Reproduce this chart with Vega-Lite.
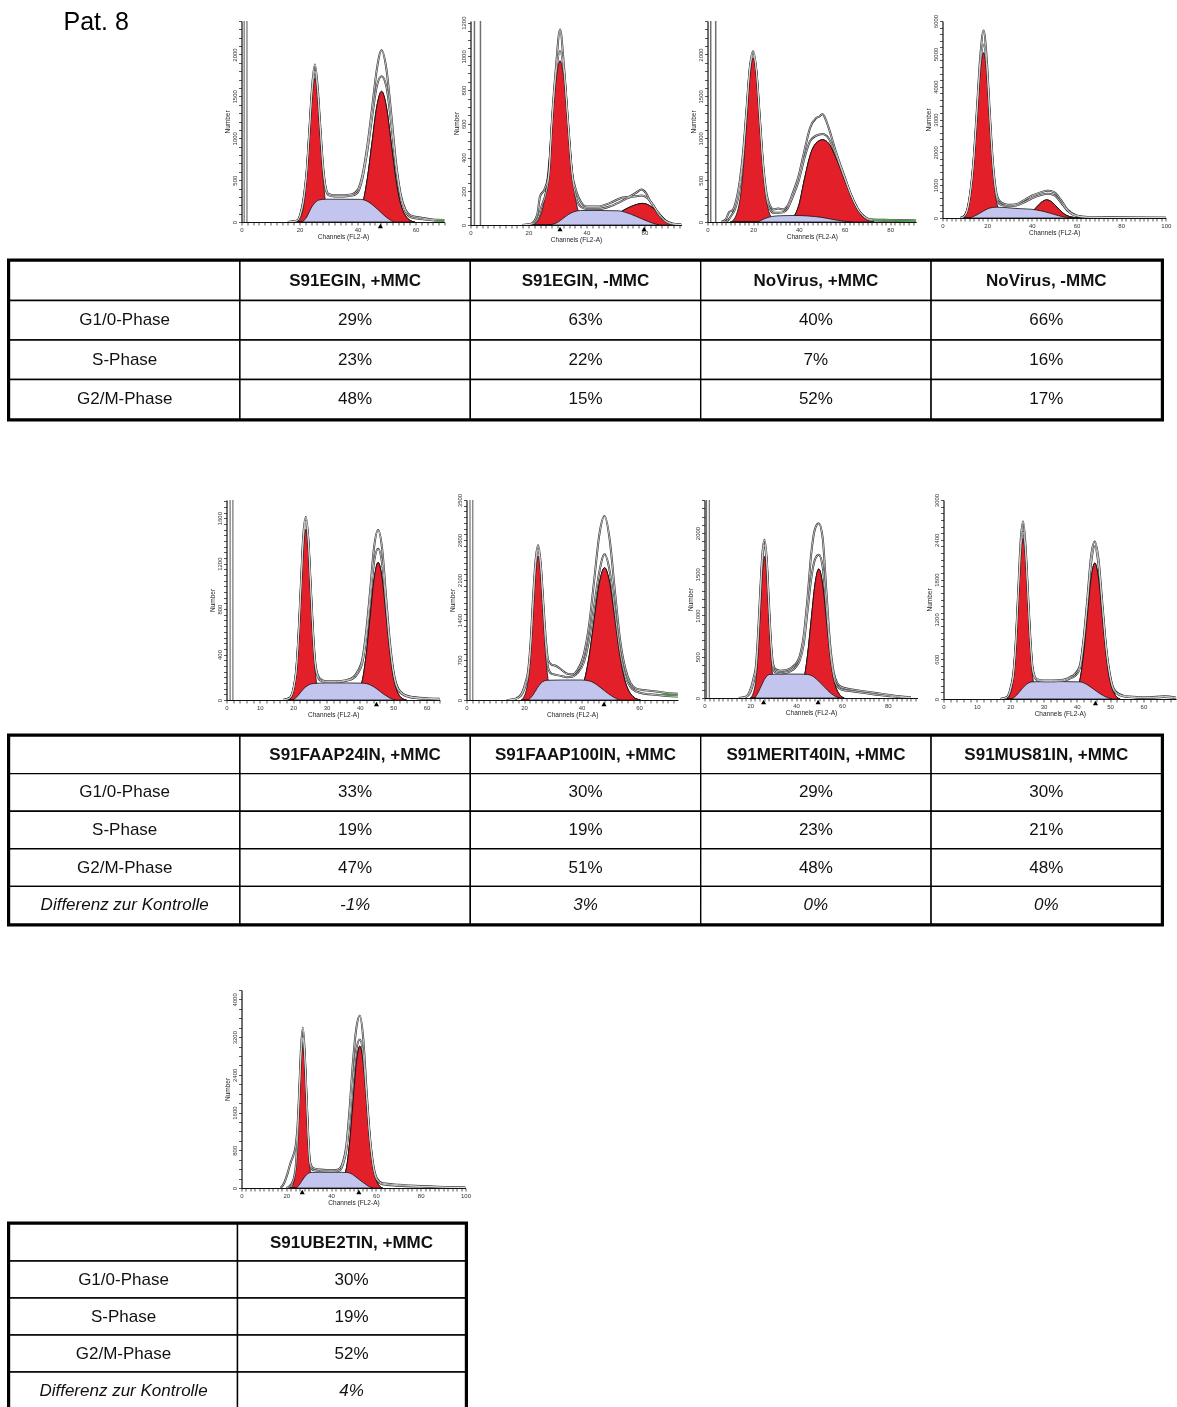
{
"$schema": "https://vega.github.io/schema/vega-lite/v6.json",
"background": "white",
"padding": {"left": 5.5, "top": 10, "right": 0, "bottom": 0},
"spacing": 14,
"config": {
 "view": {"stroke": null},
 "font": "Liberation Sans",
 "axis": {"grid": false, "domainColor": "#111111", "domainWidth": 1.2, "tickColor": "#111111", "tickWidth": 0.7, "tickSize": 3, "labelFontSize": 6, "labelColor": "#333333", "labelPadding": 1, "labelFlush": false, "labelOverlap": false, "titleFontSize": 6.5, "titleFontWeight": "normal", "titleColor": "#222222", "titlePadding": 1},
 "axisY": {"labelAngle": 270, "labelAlign": "center", "labelBaseline": "bottom", "titlePadding": 1},
 "text": {"font": "Liberation Sans"}
},
"datasets": {
 "h1": [
  {"k":"gate","x":1.4},
  {"k":"tri","x":47.9,"y":0},
  {"k":"gr","x":66.5,"y":18},{"k":"gr","x":70,"y":18},
  {"k":"g1","x":18.5,"y":0},{"k":"g1","x":19.75,"y":19},{"k":"g1","x":21.6,"y":233},{"k":"g1","x":22.5,"y":558},{"k":"g1","x":23.45,"y":1043},{"k":"g1","x":24.4,"y":1518},{"k":"g1","x":25.3,"y":1720},{"k":"g1","x":26.2,"y":1518},{"k":"g1","x":27.15,"y":1043},{"k":"g1","x":28.1,"y":558},{"k":"g1","x":29,"y":233},{"k":"g1","x":30.9,"y":19},{"k":"g1","x":32,"y":0},
  {"k":"g2","x":37,"y":0},{"k":"g2","x":38.4,"y":17},{"k":"g2","x":41.7,"y":211},{"k":"g2","x":43.35,"y":507},{"k":"g2","x":45,"y":946},{"k":"g2","x":46.65,"y":1377},{"k":"g2","x":48.3,"y":1560},{"k":"g2","x":49.95,"y":1377},{"k":"g2","x":51.6,"y":946},{"k":"g2","x":53.25,"y":507},{"k":"g2","x":54.9,"y":211},{"k":"g2","x":58.2,"y":17},{"k":"g2","x":59.8,"y":0},
  {"k":"s","x":21,"y":0},{"k":"s","x":22.5,"y":60},{"k":"s","x":24,"y":165},{"k":"s","x":25.5,"y":235},{"k":"s","x":27,"y":265},{"k":"s","x":29,"y":272},{"k":"s","x":35,"y":272},{"k":"s","x":41,"y":270},{"k":"s","x":43,"y":255},{"k":"s","x":45,"y":210},{"k":"s","x":47,"y":150},{"k":"s","x":49,"y":85},{"k":"s","x":51,"y":30},{"k":"s","x":52.5,"y":0},
  {"k":"r1","x":16,"y":0},{"k":"r1","x":19,"y":15},{"k":"r1","x":20.5,"y":120},{"k":"r1","x":21.6,"y":330},{"k":"r1","x":22.5,"y":620},{"k":"r1","x":23.45,"y":1120},{"k":"r1","x":24.4,"y":1640},{"k":"r1","x":25.3,"y":1880},{"k":"r1","x":26.2,"y":1640},{"k":"r1","x":27.15,"y":1150},{"k":"r1","x":28.1,"y":680},{"k":"r1","x":29,"y":420},{"k":"r1","x":30,"y":335},{"k":"r1","x":32,"y":320},{"k":"r1","x":35,"y":320},{"k":"r1","x":38,"y":330},{"k":"r1","x":40,"y":380},{"k":"r1","x":41.7,"y":560},{"k":"r1","x":43.35,"y":900},{"k":"r1","x":45,"y":1350},{"k":"r1","x":46.65,"y":1820},{"k":"r1","x":48.3,"y":2050},{"k":"r1","x":49.95,"y":1830},{"k":"r1","x":51.6,"y":1300},{"k":"r1","x":53.25,"y":720},{"k":"r1","x":54.9,"y":330},{"k":"r1","x":56.5,"y":150},{"k":"r1","x":58.2,"y":80},{"k":"r1","x":62,"y":50},{"k":"r1","x":66,"y":30},{"k":"r1","x":70,"y":25},
  {"k":"r2","x":16,"y":0},{"k":"r2","x":19,"y":12},{"k":"r2","x":20.5,"y":110},{"k":"r2","x":21.6,"y":300},{"k":"r2","x":22.5,"y":600},{"k":"r2","x":23.45,"y":1100},{"k":"r2","x":24.4,"y":1580},{"k":"r2","x":25.3,"y":1800},{"k":"r2","x":26.2,"y":1580},{"k":"r2","x":27.15,"y":1100},{"k":"r2","x":28.1,"y":640},{"k":"r2","x":29,"y":400},{"k":"r2","x":30,"y":320},{"k":"r2","x":32,"y":305},{"k":"r2","x":35,"y":305},{"k":"r2","x":38,"y":315},{"k":"r2","x":40,"y":350},{"k":"r2","x":41.7,"y":520},{"k":"r2","x":43.35,"y":840},{"k":"r2","x":45,"y":1240},{"k":"r2","x":46.65,"y":1620},{"k":"r2","x":48.3,"y":1740},{"k":"r2","x":49.95,"y":1620},{"k":"r2","x":51.6,"y":1180},{"k":"r2","x":53.25,"y":660},{"k":"r2","x":54.9,"y":300},{"k":"r2","x":56.5,"y":130},{"k":"r2","x":58.2,"y":60},{"k":"r2","x":62,"y":35},{"k":"r2","x":66,"y":20},{"k":"r2","x":70,"y":15}
 ],
 "h2": [
  {"k":"gate","x":2.4},
  {"k":"tri","x":30.9,"y":0},{"k":"tri","x":59.9,"y":0},
  {"k":"g1","x":21,"y":0},{"k":"g1","x":22.5,"y":11},{"k":"g1","x":25.3,"y":132},{"k":"g1","x":26.7,"y":317},{"k":"g1","x":28.1,"y":591},{"k":"g1","x":29.5,"y":860},{"k":"g1","x":30.9,"y":975},{"k":"g1","x":32.3,"y":860},{"k":"g1","x":33.7,"y":591},{"k":"g1","x":35.1,"y":317},{"k":"g1","x":36.5,"y":132},{"k":"g1","x":39.3,"y":11},{"k":"g1","x":40.8,"y":0},
  {"k":"g2","x":44,"y":0},{"k":"g2","x":46,"y":12},{"k":"g2","x":48,"y":30},{"k":"g2","x":50,"y":52},{"k":"g2","x":52,"y":79},{"k":"g2","x":54,"y":98},{"k":"g2","x":56,"y":114},{"k":"g2","x":58,"y":125},{"k":"g2","x":59.5,"y":128},{"k":"g2","x":61,"y":122},{"k":"g2","x":63,"y":100},{"k":"g2","x":65,"y":68},{"k":"g2","x":67,"y":35},{"k":"g2","x":69,"y":10},{"k":"g2","x":71,"y":0},
  {"k":"s","x":27,"y":0},{"k":"s","x":30,"y":15},{"k":"s","x":32,"y":40},{"k":"s","x":34,"y":65},{"k":"s","x":36,"y":80},{"k":"s","x":38,"y":86},{"k":"s","x":45,"y":86},{"k":"s","x":51,"y":84},{"k":"s","x":54,"y":72},{"k":"s","x":57,"y":52},{"k":"s","x":60,"y":30},{"k":"s","x":63,"y":10},{"k":"s","x":65,"y":0},
  {"k":"r1","x":18,"y":0},{"k":"r1","x":21,"y":8},{"k":"r1","x":23,"y":60},{"k":"r1","x":24,"y":170},{"k":"r1","x":25.5,"y":210},{"k":"r1","x":27,"y":300},{"k":"r1","x":28.1,"y":620},{"k":"r1","x":29.5,"y":940},{"k":"r1","x":30.9,"y":1160},{"k":"r1","x":32.3,"y":930},{"k":"r1","x":33.7,"y":600},{"k":"r1","x":35,"y":320},{"k":"r1","x":36.5,"y":200},{"k":"r1","x":38,"y":140},{"k":"r1","x":40,"y":110},{"k":"r1","x":44,"y":110},{"k":"r1","x":48,"y":130},{"k":"r1","x":52,"y":160},{"k":"r1","x":55,"y":170},{"k":"r1","x":57,"y":190},{"k":"r1","x":59,"y":210},{"k":"r1","x":60.5,"y":190},{"k":"r1","x":62,"y":140},{"k":"r1","x":64.5,"y":80},{"k":"r1","x":67,"y":30},{"k":"r1","x":70,"y":8},{"k":"r1","x":72.8,"y":3},
  {"k":"r2","x":18,"y":0},{"k":"r2","x":21,"y":5},{"k":"r2","x":23,"y":30},{"k":"r2","x":24.5,"y":110},{"k":"r2","x":26,"y":190},{"k":"r2","x":27,"y":290},{"k":"r2","x":28.1,"y":600},{"k":"r2","x":29.5,"y":900},{"k":"r2","x":30.9,"y":1030},{"k":"r2","x":32.3,"y":900},{"k":"r2","x":33.7,"y":590},{"k":"r2","x":35,"y":310},{"k":"r2","x":36.5,"y":160},{"k":"r2","x":38,"y":110},{"k":"r2","x":40,"y":95},{"k":"r2","x":44,"y":95},{"k":"r2","x":48,"y":110},{"k":"r2","x":52,"y":140},{"k":"r2","x":55,"y":165},{"k":"r2","x":57,"y":170},{"k":"r2","x":59,"y":175},{"k":"r2","x":61,"y":160},{"k":"r2","x":63,"y":120},{"k":"r2","x":65,"y":60},{"k":"r2","x":67,"y":25},{"k":"r2","x":70,"y":5},{"k":"r2","x":72.8,"y":2}
 ],
 "h3": [
  {"k":"gate","x":2.5},
  {"k":"gr","x":72,"y":25},{"k":"gr","x":80,"y":20},{"k":"gr","x":91.4,"y":12},
  {"k":"g1","x":10,"y":0},{"k":"g1","x":11.3,"y":22},{"k":"g1","x":14.2,"y":265},{"k":"g1","x":15.65,"y":637},{"k":"g1","x":17.1,"y":1189},{"k":"g1","x":18.55,"y":1730},{"k":"g1","x":20,"y":1960},{"k":"g1","x":21.45,"y":1730},{"k":"g1","x":22.9,"y":1189},{"k":"g1","x":24.35,"y":637},{"k":"g1","x":25.8,"y":265},{"k":"g1","x":28.7,"y":22},{"k":"g1","x":30,"y":0},
  {"k":"g2","x":34,"y":0},{"k":"g2","x":37,"y":40},{"k":"g2","x":40,"y":200},{"k":"g2","x":42.6,"y":530},{"k":"g2","x":45,"y":800},{"k":"g2","x":47.5,"y":940},{"k":"g2","x":50.4,"y":982},{"k":"g2","x":53,"y":940},{"k":"g2","x":56,"y":780},{"k":"g2","x":60.2,"y":490},{"k":"g2","x":63,"y":300},{"k":"g2","x":66,"y":140},{"k":"g2","x":69,"y":40},{"k":"g2","x":72,"y":5},{"k":"g2","x":73,"y":0},
  {"k":"s","x":22,"y":0},{"k":"s","x":25,"y":40},{"k":"s","x":28,"y":65},{"k":"s","x":32,"y":75},{"k":"s","x":38,"y":78},{"k":"s","x":44,"y":72},{"k":"s","x":50,"y":55},{"k":"s","x":55,"y":30},{"k":"s","x":60,"y":8},{"k":"s","x":63,"y":0},
  {"k":"r1","x":6,"y":0},{"k":"r1","x":8,"y":30},{"k":"r1","x":9.5,"y":120},{"k":"r1","x":11,"y":140},{"k":"r1","x":12.5,"y":250},{"k":"r1","x":14.2,"y":500},{"k":"r1","x":15.65,"y":850},{"k":"r1","x":17.1,"y":1350},{"k":"r1","x":18.55,"y":1850},{"k":"r1","x":20,"y":2040},{"k":"r1","x":21.45,"y":1800},{"k":"r1","x":22.9,"y":1250},{"k":"r1","x":24.35,"y":700},{"k":"r1","x":25.8,"y":350},{"k":"r1","x":27.5,"y":190},{"k":"r1","x":29,"y":150},{"k":"r1","x":31,"y":160},{"k":"r1","x":33,"y":150},{"k":"r1","x":35,"y":190},{"k":"r1","x":37,"y":320},{"k":"r1","x":40,"y":560},{"k":"r1","x":42.6,"y":870},{"k":"r1","x":45,"y":1130},{"k":"r1","x":47.5,"y":1240},{"k":"r1","x":49,"y":1260},{"k":"r1","x":50.4,"y":1290},{"k":"r1","x":51.5,"y":1240},{"k":"r1","x":53,"y":1130},{"k":"r1","x":56,"y":860},{"k":"r1","x":60.2,"y":530},{"k":"r1","x":63,"y":320},{"k":"r1","x":66,"y":150},{"k":"r1","x":69,"y":60},{"k":"r1","x":72,"y":30},{"k":"r1","x":80,"y":25},{"k":"r1","x":88,"y":20},{"k":"r1","x":91.4,"y":18},
  {"k":"r2","x":7,"y":0},{"k":"r2","x":9,"y":20},{"k":"r2","x":10.5,"y":80},{"k":"r2","x":12,"y":150},{"k":"r2","x":14.2,"y":420},{"k":"r2","x":15.65,"y":780},{"k":"r2","x":17.1,"y":1300},{"k":"r2","x":18.55,"y":1820},{"k":"r2","x":20,"y":2000},{"k":"r2","x":21.45,"y":1780},{"k":"r2","x":22.9,"y":1220},{"k":"r2","x":24.35,"y":660},{"k":"r2","x":25.8,"y":300},{"k":"r2","x":27.5,"y":150},{"k":"r2","x":29,"y":110},{"k":"r2","x":31,"y":110},{"k":"r2","x":33,"y":115},{"k":"r2","x":35,"y":160},{"k":"r2","x":37,"y":280},{"k":"r2","x":40,"y":500},{"k":"r2","x":42.6,"y":780},{"k":"r2","x":45,"y":970},{"k":"r2","x":47.5,"y":1030},{"k":"r2","x":50.4,"y":1050},{"k":"r2","x":53,"y":1000},{"k":"r2","x":56,"y":820},{"k":"r2","x":60.2,"y":510},{"k":"r2","x":63,"y":310},{"k":"r2","x":66,"y":145},{"k":"r2","x":69,"y":50},{"k":"r2","x":72,"y":20},{"k":"r2","x":80,"y":15},{"k":"r2","x":88,"y":10},{"k":"r2","x":91.4,"y":8}
 ],
 "h4": [
  {"k":"g1","x":8,"y":0},{"k":"g1","x":9.4,"y":56},{"k":"g1","x":12.4,"y":682},{"k":"g1","x":13.9,"y":1637},{"k":"g1","x":15.4,"y":3057},{"k":"g1","x":16.9,"y":4448},{"k":"g1","x":18.4,"y":5040},{"k":"g1","x":19.75,"y":4448},{"k":"g1","x":21.1,"y":3057},{"k":"g1","x":22.45,"y":1637},{"k":"g1","x":23.8,"y":682},{"k":"g1","x":26.5,"y":56},{"k":"g1","x":28,"y":0},
  {"k":"g2","x":31,"y":0},{"k":"g2","x":33.2,"y":6},{"k":"g2","x":37.7,"y":74},{"k":"g2","x":39.95,"y":179},{"k":"g2","x":42.2,"y":334},{"k":"g2","x":44.45,"y":486},{"k":"g2","x":46.7,"y":551},{"k":"g2","x":48.95,"y":486},{"k":"g2","x":51.2,"y":334},{"k":"g2","x":53.45,"y":179},{"k":"g2","x":55.7,"y":74},{"k":"g2","x":60.2,"y":6},{"k":"g2","x":62,"y":0},
  {"k":"s","x":12,"y":0},{"k":"s","x":15,"y":80},{"k":"s","x":18,"y":200},{"k":"s","x":21,"y":300},{"k":"s","x":24,"y":330},{"k":"s","x":28,"y":320},{"k":"s","x":32,"y":295},{"k":"s","x":36,"y":280},{"k":"s","x":40,"y":265},{"k":"s","x":44,"y":220},{"k":"s","x":48,"y":150},{"k":"s","x":52,"y":70},{"k":"s","x":56,"y":15},{"k":"s","x":58,"y":0},
  {"k":"r1","x":8,"y":0},{"k":"r1","x":10,"y":80},{"k":"r1","x":12.4,"y":750},{"k":"r1","x":13.9,"y":1750},{"k":"r1","x":15.4,"y":3300},{"k":"r1","x":16.9,"y":4900},{"k":"r1","x":18.4,"y":5710},{"k":"r1","x":19.75,"y":4900},{"k":"r1","x":21.1,"y":3300},{"k":"r1","x":22.45,"y":1800},{"k":"r1","x":23.8,"y":900},{"k":"r1","x":25.5,"y":520},{"k":"r1","x":28,"y":420},{"k":"r1","x":30,"y":400},{"k":"r1","x":33,"y":420},{"k":"r1","x":36,"y":520},{"k":"r1","x":40,"y":680},{"k":"r1","x":44,"y":780},{"k":"r1","x":47,"y":830},{"k":"r1","x":50,"y":790},{"k":"r1","x":53,"y":550},{"k":"r1","x":56,"y":250},{"k":"r1","x":60,"y":80},{"k":"r1","x":65,"y":30},{"k":"r1","x":75,"y":20},{"k":"r1","x":85,"y":15},{"k":"r1","x":100,"y":10},
  {"k":"r2","x":8,"y":0},{"k":"r2","x":10,"y":70},{"k":"r2","x":12.4,"y":720},{"k":"r2","x":13.9,"y":1700},{"k":"r2","x":15.4,"y":3150},{"k":"r2","x":16.9,"y":4650},{"k":"r2","x":18.4,"y":5280},{"k":"r2","x":19.75,"y":4650},{"k":"r2","x":21.1,"y":3150},{"k":"r2","x":22.45,"y":1700},{"k":"r2","x":23.8,"y":800},{"k":"r2","x":25.5,"y":430},{"k":"r2","x":28,"y":370},{"k":"r2","x":30,"y":360},{"k":"r2","x":33,"y":380},{"k":"r2","x":36,"y":460},{"k":"r2","x":40,"y":600},{"k":"r2","x":44,"y":700},{"k":"r2","x":47,"y":740},{"k":"r2","x":50,"y":700},{"k":"r2","x":53,"y":480},{"k":"r2","x":56,"y":220},{"k":"r2","x":60,"y":60},{"k":"r2","x":65,"y":20},{"k":"r2","x":75,"y":15},{"k":"r2","x":85,"y":10},{"k":"r2","x":100,"y":5}
 ],
 "h5": [
  {"k":"gate","x":1.5},
  {"k":"tri","x":45,"y":0},
  {"k":"g1","x":18.5,"y":0},{"k":"g1","x":19.3,"y":17},{"k":"g1","x":20.8,"y":203},{"k":"g1","x":21.55,"y":488},{"k":"g1","x":22.3,"y":912},{"k":"g1","x":23.05,"y":1326},{"k":"g1","x":23.8,"y":1503},{"k":"g1","x":24.55,"y":1326},{"k":"g1","x":25.3,"y":912},{"k":"g1","x":26.05,"y":488},{"k":"g1","x":26.8,"y":203},{"k":"g1","x":28.3,"y":17},{"k":"g1","x":29,"y":0},
  {"k":"g2","x":37,"y":0},{"k":"g2","x":38.3,"y":13},{"k":"g2","x":40.7,"y":164},{"k":"g2","x":41.9,"y":393},{"k":"g2","x":43.1,"y":734},{"k":"g2","x":44.3,"y":1068},{"k":"g2","x":45.5,"y":1210},{"k":"g2","x":46.7,"y":1068},{"k":"g2","x":47.9,"y":734},{"k":"g2","x":49.1,"y":393},{"k":"g2","x":50.3,"y":164},{"k":"g2","x":52.7,"y":13},{"k":"g2","x":54,"y":0},
  {"k":"s","x":20,"y":0},{"k":"s","x":21.5,"y":40},{"k":"s","x":23,"y":95},{"k":"s","x":24.5,"y":130},{"k":"s","x":26,"y":145},{"k":"s","x":30,"y":150},{"k":"s","x":36,"y":150},{"k":"s","x":41,"y":148},{"k":"s","x":43,"y":135},{"k":"s","x":45,"y":100},{"k":"s","x":47,"y":55},{"k":"s","x":49,"y":18},{"k":"s","x":50.5,"y":0},
  {"k":"r1","x":17,"y":0},{"k":"r1","x":19,"y":20},{"k":"r1","x":20.8,"y":230},{"k":"r1","x":21.55,"y":540},{"k":"r1","x":22.3,"y":1000},{"k":"r1","x":23.05,"y":1450},{"k":"r1","x":23.8,"y":1610},{"k":"r1","x":24.55,"y":1420},{"k":"r1","x":25.3,"y":990},{"k":"r1","x":26.05,"y":560},{"k":"r1","x":26.8,"y":290},{"k":"r1","x":28,"y":190},{"k":"r1","x":30,"y":165},{"k":"r1","x":33,"y":165},{"k":"r1","x":36,"y":175},{"k":"r1","x":38,"y":200},{"k":"r1","x":39.5,"y":260},{"k":"r1","x":40.7,"y":350},{"k":"r1","x":41.9,"y":600},{"k":"r1","x":43.1,"y":960},{"k":"r1","x":44.3,"y":1350},{"k":"r1","x":45.5,"y":1495},{"k":"r1","x":46.7,"y":1330},{"k":"r1","x":47.9,"y":900},{"k":"r1","x":49.1,"y":490},{"k":"r1","x":50.3,"y":220},{"k":"r1","x":52,"y":80},{"k":"r1","x":55,"y":30},{"k":"r1","x":60,"y":15},{"k":"r1","x":64,"y":10},
  {"k":"r2","x":17,"y":0},{"k":"r2","x":19,"y":18},{"k":"r2","x":20.8,"y":220},{"k":"r2","x":21.55,"y":520},{"k":"r2","x":22.3,"y":960},{"k":"r2","x":23.05,"y":1400},{"k":"r2","x":23.8,"y":1575},{"k":"r2","x":24.55,"y":1390},{"k":"r2","x":25.3,"y":960},{"k":"r2","x":26.05,"y":530},{"k":"r2","x":26.8,"y":270},{"k":"r2","x":28,"y":175},{"k":"r2","x":30,"y":158},{"k":"r2","x":33,"y":158},{"k":"r2","x":36,"y":170},{"k":"r2","x":38,"y":190},{"k":"r2","x":39.5,"y":240},{"k":"r2","x":40.7,"y":320},{"k":"r2","x":41.9,"y":540},{"k":"r2","x":43.1,"y":880},{"k":"r2","x":44.3,"y":1220},{"k":"r2","x":45.5,"y":1330},{"k":"r2","x":46.7,"y":1200},{"k":"r2","x":47.9,"y":820},{"k":"r2","x":49.1,"y":450},{"k":"r2","x":50.3,"y":200},{"k":"r2","x":52,"y":70},{"k":"r2","x":55,"y":25},{"k":"r2","x":60,"y":10},{"k":"r2","x":64,"y":5}
 ],
 "h6": [
  {"k":"gate","x":1.7},
  {"k":"tri","x":47.8,"y":0},
  {"k":"gr","x":68,"y":100},{"k":"gr","x":73.5,"y":95},
  {"k":"g1","x":19,"y":0},{"k":"g1","x":19.65,"y":28},{"k":"g1","x":21.4,"y":341},{"k":"g1","x":22.28,"y":818},{"k":"g1","x":23.15,"y":1528},{"k":"g1","x":24.03,"y":2224},{"k":"g1","x":24.9,"y":2520},{"k":"g1","x":25.78,"y":2224},{"k":"g1","x":26.65,"y":1528},{"k":"g1","x":27.53,"y":818},{"k":"g1","x":28.4,"y":341},{"k":"g1","x":30.15,"y":28},{"k":"g1","x":31,"y":0},
  {"k":"g2","x":35.5,"y":0},{"k":"g2","x":37.2,"y":26},{"k":"g2","x":40.8,"y":313},{"k":"g2","x":42.6,"y":752},{"k":"g2","x":44.4,"y":1405},{"k":"g2","x":46.2,"y":2044},{"k":"g2","x":48,"y":2316},{"k":"g2","x":49.8,"y":2044},{"k":"g2","x":51.6,"y":1405},{"k":"g2","x":53.4,"y":752},{"k":"g2","x":55.2,"y":313},{"k":"g2","x":58.8,"y":26},{"k":"g2","x":60.5,"y":0},
  {"k":"s","x":21.5,"y":0},{"k":"s","x":23,"y":80},{"k":"s","x":24.5,"y":200},{"k":"s","x":26,"y":300},{"k":"s","x":28,"y":345},{"k":"s","x":33,"y":350},{"k":"s","x":40,"y":350},{"k":"s","x":43,"y":330},{"k":"s","x":45.5,"y":260},{"k":"s","x":48,"y":160},{"k":"s","x":50.5,"y":70},{"k":"s","x":53,"y":0},
  {"k":"r1","x":14,"y":0},{"k":"r1","x":17,"y":20},{"k":"r1","x":19,"y":100},{"k":"r1","x":20.5,"y":300},{"k":"r1","x":21.4,"y":500},{"k":"r1","x":22.28,"y":1000},{"k":"r1","x":23.15,"y":1800},{"k":"r1","x":24.03,"y":2450},{"k":"r1","x":24.9,"y":2706},{"k":"r1","x":25.78,"y":2400},{"k":"r1","x":26.65,"y":1750},{"k":"r1","x":27.53,"y":1100},{"k":"r1","x":28.4,"y":700},{"k":"r1","x":29.5,"y":620},{"k":"r1","x":31,"y":600},{"k":"r1","x":33,"y":530},{"k":"r1","x":35,"y":460},{"k":"r1","x":37,"y":450},{"k":"r1","x":38.5,"y":520},{"k":"r1","x":40.8,"y":800},{"k":"r1","x":42.6,"y":1300},{"k":"r1","x":44.4,"y":2100},{"k":"r1","x":46.2,"y":2900},{"k":"r1","x":48,"y":3218},{"k":"r1","x":49.8,"y":2800},{"k":"r1","x":51.6,"y":1900},{"k":"r1","x":53.4,"y":1050},{"k":"r1","x":55.2,"y":550},{"k":"r1","x":57,"y":300},{"k":"r1","x":59,"y":200},{"k":"r1","x":62,"y":170},{"k":"r1","x":66,"y":150},{"k":"r1","x":70,"y":120},{"k":"r1","x":73.5,"y":110},
  {"k":"r2","x":15,"y":0},{"k":"r2","x":17,"y":15},{"k":"r2","x":19,"y":80},{"k":"r2","x":20.5,"y":250},{"k":"r2","x":21.4,"y":420},{"k":"r2","x":22.28,"y":900},{"k":"r2","x":23.15,"y":1650},{"k":"r2","x":24.03,"y":2350},{"k":"r2","x":24.9,"y":2636},{"k":"r2","x":25.78,"y":2330},{"k":"r2","x":26.65,"y":1650},{"k":"r2","x":27.53,"y":950},{"k":"r2","x":28.4,"y":560},{"k":"r2","x":29.5,"y":460},{"k":"r2","x":31,"y":440},{"k":"r2","x":33,"y":420},{"k":"r2","x":35,"y":400},{"k":"r2","x":37,"y":410},{"k":"r2","x":38.5,"y":470},{"k":"r2","x":40.8,"y":660},{"k":"r2","x":42.6,"y":1050},{"k":"r2","x":44.4,"y":1650},{"k":"r2","x":46.2,"y":2250},{"k":"r2","x":48,"y":2549},{"k":"r2","x":49.8,"y":2250},{"k":"r2","x":51.6,"y":1550},{"k":"r2","x":53.4,"y":850},{"k":"r2","x":55.2,"y":420},{"k":"r2","x":57,"y":230},{"k":"r2","x":59,"y":150},{"k":"r2","x":62,"y":110},{"k":"r2","x":66,"y":90},{"k":"r2","x":70,"y":70},{"k":"r2","x":73.5,"y":60}
 ],
 "h7": [
  {"k":"gate","x":1.5},
  {"k":"tri","x":25.8,"y":0},{"k":"tri","x":49.6,"y":0},
  {"k":"g1","x":20,"y":0},{"k":"g1","x":20.65,"y":19},{"k":"g1","x":22.5,"y":232},{"k":"g1","x":23.43,"y":558},{"k":"g1","x":24.35,"y":1041},{"k":"g1","x":25.28,"y":1515},{"k":"g1","x":26.2,"y":1717},{"k":"g1","x":27.13,"y":1515},{"k":"g1","x":28.05,"y":1041},{"k":"g1","x":28.98,"y":558},{"k":"g1","x":29.9,"y":232},{"k":"g1","x":31.75,"y":19},{"k":"g1","x":32.5,"y":0},
  {"k":"g2","x":38.5,"y":0},{"k":"g2","x":40,"y":17},{"k":"g2","x":43.3,"y":212},{"k":"g2","x":44.95,"y":508},{"k":"g2","x":46.6,"y":949},{"k":"g2","x":48.25,"y":1380},{"k":"g2","x":49.9,"y":1564},{"k":"g2","x":51.55,"y":1380},{"k":"g2","x":53.2,"y":949},{"k":"g2","x":54.85,"y":508},{"k":"g2","x":56.5,"y":212},{"k":"g2","x":59.8,"y":17},{"k":"g2","x":61,"y":0},
  {"k":"s","x":22,"y":0},{"k":"s","x":23.5,"y":70},{"k":"s","x":25,"y":160},{"k":"s","x":26.5,"y":240},{"k":"s","x":28.5,"y":285},{"k":"s","x":33,"y":290},{"k":"s","x":40,"y":290},{"k":"s","x":45,"y":285},{"k":"s","x":47.5,"y":260},{"k":"s","x":50,"y":200},{"k":"s","x":52.5,"y":130},{"k":"s","x":55,"y":60},{"k":"s","x":57.5,"y":15},{"k":"s","x":59,"y":0},
  {"k":"r1","x":15,"y":0},{"k":"r1","x":18,"y":15},{"k":"r1","x":20,"y":100},{"k":"r1","x":21.5,"y":250},{"k":"r1","x":22.5,"y":400},{"k":"r1","x":23.43,"y":800},{"k":"r1","x":24.35,"y":1300},{"k":"r1","x":25.28,"y":1750},{"k":"r1","x":26.2,"y":1918},{"k":"r1","x":27.13,"y":1700},{"k":"r1","x":28.05,"y":1200},{"k":"r1","x":28.98,"y":700},{"k":"r1","x":29.9,"y":420},{"k":"r1","x":31,"y":350},{"k":"r1","x":33,"y":330},{"k":"r1","x":36,"y":340},{"k":"r1","x":38.5,"y":380},{"k":"r1","x":40,"y":420},{"k":"r1","x":41.5,"y":500},{"k":"r1","x":43.3,"y":750},{"k":"r1","x":44.95,"y":1200},{"k":"r1","x":46.6,"y":1750},{"k":"r1","x":48.25,"y":2050},{"k":"r1","x":49.9,"y":2118},{"k":"r1","x":51.55,"y":1950},{"k":"r1","x":53.2,"y":1300},{"k":"r1","x":54.85,"y":650},{"k":"r1","x":56.5,"y":300},{"k":"r1","x":58,"y":180},{"k":"r1","x":60,"y":130},{"k":"r1","x":65,"y":100},{"k":"r1","x":70,"y":80},{"k":"r1","x":75,"y":60},{"k":"r1","x":80,"y":40},{"k":"r1","x":85,"y":20},{"k":"r1","x":90,"y":10},
  {"k":"r2","x":16,"y":0},{"k":"r2","x":18,"y":10},{"k":"r2","x":20,"y":70},{"k":"r2","x":21.5,"y":200},{"k":"r2","x":22.5,"y":330},{"k":"r2","x":23.43,"y":700},{"k":"r2","x":24.35,"y":1200},{"k":"r2","x":25.28,"y":1680},{"k":"r2","x":26.2,"y":1857},{"k":"r2","x":27.13,"y":1650},{"k":"r2","x":28.05,"y":1130},{"k":"r2","x":28.98,"y":650},{"k":"r2","x":29.9,"y":370},{"k":"r2","x":31,"y":310},{"k":"r2","x":33,"y":300},{"k":"r2","x":36,"y":310},{"k":"r2","x":38.5,"y":340},{"k":"r2","x":40,"y":380},{"k":"r2","x":41.5,"y":450},{"k":"r2","x":43.3,"y":650},{"k":"r2","x":44.95,"y":1050},{"k":"r2","x":46.6,"y":1450},{"k":"r2","x":48.25,"y":1680},{"k":"r2","x":49.9,"y":1737},{"k":"r2","x":51.55,"y":1600},{"k":"r2","x":53.2,"y":1100},{"k":"r2","x":54.85,"y":560},{"k":"r2","x":56.5,"y":250},{"k":"r2","x":58,"y":140},{"k":"r2","x":60,"y":100},{"k":"r2","x":65,"y":80},{"k":"r2","x":70,"y":60},{"k":"r2","x":75,"y":40},{"k":"r2","x":80,"y":25},{"k":"r2","x":85,"y":10},{"k":"r2","x":90,"y":5}
 ],
 "h8": [
  {"k":"tri","x":45.6,"y":0},
  {"k":"g1","x":19,"y":0},{"k":"g1","x":19.55,"y":27},{"k":"g1","x":21,"y":328},{"k":"g1","x":21.73,"y":787},{"k":"g1","x":22.45,"y":1471},{"k":"g1","x":23.18,"y":2140},{"k":"g1","x":23.9,"y":2425},{"k":"g1","x":24.63,"y":2140},{"k":"g1","x":25.35,"y":1471},{"k":"g1","x":26.08,"y":787},{"k":"g1","x":26.8,"y":328},{"k":"g1","x":28.25,"y":27},{"k":"g1","x":29,"y":0},
  {"k":"g2","x":37.5,"y":0},{"k":"g2","x":38.65,"y":23},{"k":"g2","x":40.9,"y":277},{"k":"g2","x":42.03,"y":666},{"k":"g2","x":43.15,"y":1243},{"k":"g2","x":44.28,"y":1809},{"k":"g2","x":45.4,"y":2050},{"k":"g2","x":46.53,"y":1809},{"k":"g2","x":47.65,"y":1243},{"k":"g2","x":48.78,"y":666},{"k":"g2","x":49.9,"y":277},{"k":"g2","x":52.15,"y":23},{"k":"g2","x":53,"y":0},
  {"k":"s","x":20.5,"y":0},{"k":"s","x":22,"y":60},{"k":"s","x":23.5,"y":150},{"k":"s","x":25,"y":225},{"k":"s","x":26.5,"y":258},{"k":"s","x":30,"y":262},{"k":"s","x":36,"y":262},{"k":"s","x":41,"y":258},{"k":"s","x":43,"y":220},{"k":"s","x":45,"y":150},{"k":"s","x":47,"y":80},{"k":"s","x":49,"y":25},{"k":"s","x":50.5,"y":0},
  {"k":"r1","x":17,"y":0},{"k":"r1","x":19,"y":30},{"k":"r1","x":20.3,"y":200},{"k":"r1","x":21,"y":400},{"k":"r1","x":21.73,"y":900},{"k":"r1","x":22.45,"y":1650},{"k":"r1","x":23.18,"y":2400},{"k":"r1","x":23.9,"y":2675},{"k":"r1","x":24.63,"y":2300},{"k":"r1","x":25.35,"y":1600},{"k":"r1","x":26.08,"y":900},{"k":"r1","x":26.8,"y":450},{"k":"r1","x":28,"y":300},{"k":"r1","x":30,"y":280},{"k":"r1","x":33,"y":280},{"k":"r1","x":36,"y":290},{"k":"r1","x":38,"y":330},{"k":"r1","x":39.5,"y":380},{"k":"r1","x":40.9,"y":500},{"k":"r1","x":42.03,"y":900},{"k":"r1","x":43.15,"y":1500},{"k":"r1","x":44.28,"y":2150},{"k":"r1","x":45.4,"y":2375},{"k":"r1","x":46.53,"y":2100},{"k":"r1","x":47.65,"y":1450},{"k":"r1","x":48.78,"y":800},{"k":"r1","x":49.9,"y":380},{"k":"r1","x":51.5,"y":120},{"k":"r1","x":54,"y":50},{"k":"r1","x":58,"y":30},{"k":"r1","x":62,"y":25},{"k":"r1","x":66,"y":40},{"k":"r1","x":70,"y":20},
  {"k":"r2","x":17,"y":0},{"k":"r2","x":19,"y":25},{"k":"r2","x":20.3,"y":180},{"k":"r2","x":21,"y":370},{"k":"r2","x":21.73,"y":850},{"k":"r2","x":22.45,"y":1580},{"k":"r2","x":23.18,"y":2250},{"k":"r2","x":23.9,"y":2520},{"k":"r2","x":24.63,"y":2200},{"k":"r2","x":25.35,"y":1530},{"k":"r2","x":26.08,"y":850},{"k":"r2","x":26.8,"y":420},{"k":"r2","x":28,"y":285},{"k":"r2","x":30,"y":268},{"k":"r2","x":33,"y":268},{"k":"r2","x":36,"y":275},{"k":"r2","x":38,"y":310},{"k":"r2","x":39.5,"y":350},{"k":"r2","x":40.9,"y":460},{"k":"r2","x":42.03,"y":850},{"k":"r2","x":43.15,"y":1420},{"k":"r2","x":44.28,"y":2050},{"k":"r2","x":45.4,"y":2300},{"k":"r2","x":46.53,"y":2020},{"k":"r2","x":47.65,"y":1380},{"k":"r2","x":48.78,"y":760},{"k":"r2","x":49.9,"y":350},{"k":"r2","x":51.5,"y":100},{"k":"r2","x":54,"y":40},{"k":"r2","x":58,"y":20},{"k":"r2","x":62,"y":15},{"k":"r2","x":66,"y":30},{"k":"r2","x":70,"y":10}
 ],
 "h9": [
  {"k":"tri","x":27.1,"y":0},{"k":"tri","x":52.4,"y":0},
  {"k":"g1","x":21.5,"y":0},{"k":"g1","x":22.6,"y":34},{"k":"g1","x":24.2,"y":412},{"k":"g1","x":25,"y":988},{"k":"g1","x":25.8,"y":1846},{"k":"g1","x":26.6,"y":2686},{"k":"g1","x":27.4,"y":3044},{"k":"g1","x":28.2,"y":2686},{"k":"g1","x":29,"y":1846},{"k":"g1","x":29.8,"y":988},{"k":"g1","x":30.6,"y":412},{"k":"g1","x":32.2,"y":34},{"k":"g1","x":33,"y":0},
  {"k":"g2","x":42.5,"y":0},{"k":"g2","x":43.8,"y":33},{"k":"g2","x":46.8,"y":407},{"k":"g2","x":48.3,"y":977},{"k":"g2","x":49.8,"y":1825},{"k":"g2","x":51.3,"y":2656},{"k":"g2","x":52.8,"y":3009},{"k":"g2","x":54.3,"y":2656},{"k":"g2","x":55.8,"y":1825},{"k":"g2","x":57.3,"y":977},{"k":"g2","x":58.8,"y":407},{"k":"g2","x":61.8,"y":33},{"k":"g2","x":63,"y":0},
  {"k":"s","x":24.5,"y":0},{"k":"s","x":26,"y":80},{"k":"s","x":27.5,"y":190},{"k":"s","x":29,"y":280},{"k":"s","x":31,"y":330},{"k":"s","x":36,"y":335},{"k":"s","x":42,"y":335},{"k":"s","x":47,"y":330},{"k":"s","x":49.5,"y":290},{"k":"s","x":52,"y":200},{"k":"s","x":54.5,"y":110},{"k":"s","x":57,"y":30},{"k":"s","x":58.5,"y":0},
  {"k":"r1","x":17.5,"y":0},{"k":"r1","x":19,"y":100},{"k":"r1","x":20.5,"y":300},{"k":"r1","x":22,"y":550},{"k":"r1","x":23.2,"y":700},{"k":"r1","x":24.2,"y":900},{"k":"r1","x":25,"y":1300},{"k":"r1","x":25.8,"y":2100},{"k":"r1","x":26.6,"y":3000},{"k":"r1","x":27.4,"y":3398},{"k":"r1","x":28.2,"y":2900},{"k":"r1","x":29,"y":2000},{"k":"r1","x":29.8,"y":1100},{"k":"r1","x":30.6,"y":550},{"k":"r1","x":32,"y":420},{"k":"r1","x":35,"y":390},{"k":"r1","x":38,"y":380},{"k":"r1","x":42,"y":380},{"k":"r1","x":44,"y":420},{"k":"r1","x":45.3,"y":550},{"k":"r1","x":46.8,"y":900},{"k":"r1","x":48.3,"y":1700},{"k":"r1","x":49.8,"y":2700},{"k":"r1","x":51.3,"y":3400},{"k":"r1","x":52.8,"y":3660},{"k":"r1","x":54.3,"y":3200},{"k":"r1","x":55.8,"y":2100},{"k":"r1","x":57.3,"y":1100},{"k":"r1","x":58.8,"y":500},{"k":"r1","x":60.5,"y":200},{"k":"r1","x":63,"y":100},{"k":"r1","x":70,"y":70},{"k":"r1","x":80,"y":40},{"k":"r1","x":90,"y":20},{"k":"r1","x":100,"y":10},
  {"k":"r2","x":20,"y":0},{"k":"r2","x":21.5,"y":40},{"k":"r2","x":23,"y":150},{"k":"r2","x":24.2,"y":450},{"k":"r2","x":25,"y":1050},{"k":"r2","x":25.8,"y":1950},{"k":"r2","x":26.6,"y":2800},{"k":"r2","x":27.4,"y":3186},{"k":"r2","x":28.2,"y":2800},{"k":"r2","x":29,"y":1950},{"k":"r2","x":29.8,"y":1050},{"k":"r2","x":30.6,"y":500},{"k":"r2","x":32,"y":380},{"k":"r2","x":35,"y":360},{"k":"r2","x":38,"y":355},{"k":"r2","x":42,"y":355},{"k":"r2","x":44,"y":380},{"k":"r2","x":45.3,"y":500},{"k":"r2","x":46.8,"y":800},{"k":"r2","x":48.3,"y":1450},{"k":"r2","x":49.8,"y":2300},{"k":"r2","x":51.3,"y":2950},{"k":"r2","x":52.8,"y":3150},{"k":"r2","x":54.3,"y":2850},{"k":"r2","x":55.8,"y":1950},{"k":"r2","x":57.3,"y":1050},{"k":"r2","x":58.8,"y":450},{"k":"r2","x":60.5,"y":170},{"k":"r2","x":63,"y":80},{"k":"r2","x":70,"y":50},{"k":"r2","x":80,"y":30},{"k":"r2","x":90,"y":15},{"k":"r2","x":100,"y":5}
 ],
 "t1": [
  {"r":" ","c":" ","t":" ","k":"head"},
  {"r":" ","c":"S91EGIN, +MMC","t":"S91EGIN, +MMC","k":"head"},
  {"r":" ","c":"S91EGIN, -MMC","t":"S91EGIN, -MMC","k":"head"},
  {"r":" ","c":"NoVirus, +MMC","t":"NoVirus, +MMC","k":"head"},
  {"r":" ","c":"NoVirus, -MMC","t":"NoVirus, -MMC","k":"head"},
  {"r":"G1/0-Phase","c":" ","t":"G1/0-Phase","k":"body"},
  {"r":"G1/0-Phase","c":"S91EGIN, +MMC","t":"29%","k":"body"},
  {"r":"G1/0-Phase","c":"S91EGIN, -MMC","t":"63%","k":"body"},
  {"r":"G1/0-Phase","c":"NoVirus, +MMC","t":"40%","k":"body"},
  {"r":"G1/0-Phase","c":"NoVirus, -MMC","t":"66%","k":"body"},
  {"r":"S-Phase","c":" ","t":"S-Phase","k":"body"},
  {"r":"S-Phase","c":"S91EGIN, +MMC","t":"23%","k":"body"},
  {"r":"S-Phase","c":"S91EGIN, -MMC","t":"22%","k":"body"},
  {"r":"S-Phase","c":"NoVirus, +MMC","t":"7%","k":"body"},
  {"r":"S-Phase","c":"NoVirus, -MMC","t":"16%","k":"body"},
  {"r":"G2/M-Phase","c":" ","t":"G2/M-Phase","k":"body"},
  {"r":"G2/M-Phase","c":"S91EGIN, +MMC","t":"48%","k":"body"},
  {"r":"G2/M-Phase","c":"S91EGIN, -MMC","t":"15%","k":"body"},
  {"r":"G2/M-Phase","c":"NoVirus, +MMC","t":"52%","k":"body"},
  {"r":"G2/M-Phase","c":"NoVirus, -MMC","t":"17%","k":"body"}
 ],
 "t2": [
  {"r":" ","c":" ","t":" ","k":"head"},
  {"r":" ","c":"S91FAAP24IN, +MMC","t":"S91FAAP24IN, +MMC","k":"head"},
  {"r":" ","c":"S91FAAP100IN, +MMC","t":"S91FAAP100IN, +MMC","k":"head"},
  {"r":" ","c":"S91MERIT40IN, +MMC","t":"S91MERIT40IN, +MMC","k":"head"},
  {"r":" ","c":"S91MUS81IN, +MMC","t":"S91MUS81IN, +MMC","k":"head"},
  {"r":"G1/0-Phase","c":" ","t":"G1/0-Phase","k":"body"},
  {"r":"G1/0-Phase","c":"S91FAAP24IN, +MMC","t":"33%","k":"body"},
  {"r":"G1/0-Phase","c":"S91FAAP100IN, +MMC","t":"30%","k":"body"},
  {"r":"G1/0-Phase","c":"S91MERIT40IN, +MMC","t":"29%","k":"body"},
  {"r":"G1/0-Phase","c":"S91MUS81IN, +MMC","t":"30%","k":"body"},
  {"r":"S-Phase","c":" ","t":"S-Phase","k":"body"},
  {"r":"S-Phase","c":"S91FAAP24IN, +MMC","t":"19%","k":"body"},
  {"r":"S-Phase","c":"S91FAAP100IN, +MMC","t":"19%","k":"body"},
  {"r":"S-Phase","c":"S91MERIT40IN, +MMC","t":"23%","k":"body"},
  {"r":"S-Phase","c":"S91MUS81IN, +MMC","t":"21%","k":"body"},
  {"r":"G2/M-Phase","c":" ","t":"G2/M-Phase","k":"body"},
  {"r":"G2/M-Phase","c":"S91FAAP24IN, +MMC","t":"47%","k":"body"},
  {"r":"G2/M-Phase","c":"S91FAAP100IN, +MMC","t":"51%","k":"body"},
  {"r":"G2/M-Phase","c":"S91MERIT40IN, +MMC","t":"48%","k":"body"},
  {"r":"G2/M-Phase","c":"S91MUS81IN, +MMC","t":"48%","k":"body"},
  {"r":"Differenz zur Kontrolle","c":" ","t":"Differenz zur Kontrolle","k":"diff"},
  {"r":"Differenz zur Kontrolle","c":"S91FAAP24IN, +MMC","t":"-1%","k":"diff"},
  {"r":"Differenz zur Kontrolle","c":"S91FAAP100IN, +MMC","t":"3%","k":"diff"},
  {"r":"Differenz zur Kontrolle","c":"S91MERIT40IN, +MMC","t":"0%","k":"diff"},
  {"r":"Differenz zur Kontrolle","c":"S91MUS81IN, +MMC","t":"0%","k":"diff"}
 ],
 "t3": [
  {"r":" ","c":" ","t":" ","k":"head"},
  {"r":" ","c":"S91UBE2TIN, +MMC","t":"S91UBE2TIN, +MMC","k":"head"},
  {"r":"G1/0-Phase","c":" ","t":"G1/0-Phase","k":"body"},
  {"r":"G1/0-Phase","c":"S91UBE2TIN, +MMC","t":"30%","k":"body"},
  {"r":"S-Phase","c":" ","t":"S-Phase","k":"body"},
  {"r":"S-Phase","c":"S91UBE2TIN, +MMC","t":"19%","k":"body"},
  {"r":"G2/M-Phase","c":" ","t":"G2/M-Phase","k":"body"},
  {"r":"G2/M-Phase","c":"S91UBE2TIN, +MMC","t":"52%","k":"body"},
  {"r":"Differenz zur Kontrolle","c":" ","t":"Differenz zur Kontrolle","k":"diff"},
  {"r":"Differenz zur Kontrolle","c":"S91UBE2TIN, +MMC","t":"4%","k":"diff"}
 ]
},
"vconcat": [
 {"spacing": 26, "bounds": "flush", "hconcat": [
  {"width": 206, "height": 200, "data": {"values": [{}]}, "mark": {"type": "text", "text": ""},
   "title": {"text": "Pat. 8", "anchor": "start", "frame": "group", "orient": "top", "offset": -34, "dx": 54, "fontSize": 25, "fontWeight": "normal", "font": "Liberation Sans", "color": "#000000", "baseline": "alphabetic"}},
  {"width": 203, "height": 201, "data": {"name": "h1"},
   "encoding": {"x": {"field": "x", "type": "quantitative", "scale": {"domain": [0, 70], "nice": false, "zero": false}, "axis": {"title": "Channels (FL2-A)", "tickCount": 35, "format": "d", "labelExpr": "datum.value % 20 === 0 ? datum.label : ''"}}},
   "layer": [
    {"transform": [{"filter": "datum.k === 'gate'"}], "mark": {"type": "rule", "color": "#707070", "strokeWidth": 4}},
    {"transform": [{"filter": "datum.k === 'gate'"}], "mark": {"type": "rule", "color": "#ffffff", "strokeWidth": 1.6}},
    {"transform": [{"filter": "datum.k === 'g1' || datum.k === 'g2'"}], "mark": {"type": "area", "interpolate": "monotone", "fill": "#e3202a", "stroke": "#111111", "strokeWidth": 0.8, "clip": true}, "encoding": {"y": {"field": "y", "type": "quantitative", "scale": {"domain": [0, 2400], "nice": false}, "axis": {"title": "Number", "tickCount": 24, "format": "d", "labelExpr": "datum.value % 500 === 0 ? datum.label : ''"}}, "detail": {"field": "k"}}},
    {"transform": [{"filter": "datum.k === 's'"}], "mark": {"type": "area", "interpolate": "monotone", "fill": "#c3c5ee", "blend": "multiply", "stroke": "#111111", "strokeWidth": 0.8, "clip": true}, "encoding": {"y": {"field": "y", "type": "quantitative", "scale": {"domain": [0, 2400], "nice": false}}}},
    {"transform": [{"filter": "datum.k === 'r1' || datum.k === 'r2'"}], "mark": {"type": "line", "interpolate": "monotone", "color": "#2a2a2a", "strokeWidth": 2, "clip": true}, "encoding": {"y": {"field": "y", "type": "quantitative", "scale": {"domain": [0, 2400], "nice": false}}, "detail": {"field": "k"}}},
    {"transform": [{"filter": "datum.k === 'r1' || datum.k === 'r2'"}], "mark": {"type": "line", "interpolate": "monotone", "color": "#ffffff", "strokeWidth": 0.7, "clip": true}, "encoding": {"y": {"field": "y", "type": "quantitative", "scale": {"domain": [0, 2400], "nice": false}}, "detail": {"field": "k"}}},
    {"transform": [{"filter": "datum.k === 'gr'"}], "mark": {"type": "line", "color": "#3f9b3f", "strokeWidth": 1.5, "clip": true}, "encoding": {"y": {"field": "y", "type": "quantitative", "scale": {"domain": [0, 2400], "nice": false}}}},
    {"transform": [{"filter": "datum.k === 'tri'"}], "mark": {"type": "point", "shape": "triangle-up", "filled": true, "color": "#000000", "opacity": 1, "size": 26, "yOffset": 4}, "encoding": {"y": {"field": "y", "type": "quantitative", "scale": {"domain": [0, 2400], "nice": false}}}}
   ]},
  {"width": 211, "height": 204, "data": {"name": "h2"},
   "encoding": {"x": {"field": "x", "type": "quantitative", "scale": {"domain": [0, 72.8], "nice": false, "zero": false}, "axis": {"title": "Channels (FL2-A)", "tickCount": 36, "format": "d", "labelExpr": "datum.value % 20 === 0 ? datum.label : ''"}}},
   "layer": [
    {"transform": [{"filter": "datum.k === 'gate'"}], "mark": {"type": "rule", "color": "#707070", "strokeWidth": 7.5}},
    {"transform": [{"filter": "datum.k === 'gate'"}], "mark": {"type": "rule", "color": "#ffffff", "strokeWidth": 4.5}},
    {"transform": [{"filter": "datum.k === 'g1' || datum.k === 'g2'"}], "mark": {"type": "area", "interpolate": "monotone", "fill": "#e3202a", "stroke": "#111111", "strokeWidth": 0.8, "clip": true}, "encoding": {"y": {"field": "y", "type": "quantitative", "scale": {"domain": [0, 1210], "nice": false}, "axis": {"title": "Number", "tickCount": 24, "format": "d", "labelExpr": "datum.value % 200 === 0 ? datum.label : ''"}}, "detail": {"field": "k"}}},
    {"transform": [{"filter": "datum.k === 's'"}], "mark": {"type": "area", "interpolate": "monotone", "fill": "#c3c5ee", "blend": "multiply", "stroke": "#111111", "strokeWidth": 0.8, "clip": true}, "encoding": {"y": {"field": "y", "type": "quantitative", "scale": {"domain": [0, 1210], "nice": false}}}},
    {"transform": [{"filter": "datum.k === 'r1' || datum.k === 'r2'"}], "mark": {"type": "line", "interpolate": "monotone", "color": "#2a2a2a", "strokeWidth": 2, "clip": true}, "encoding": {"y": {"field": "y", "type": "quantitative", "scale": {"domain": [0, 1210], "nice": false}}, "detail": {"field": "k"}}},
    {"transform": [{"filter": "datum.k === 'r1' || datum.k === 'r2'"}], "mark": {"type": "line", "interpolate": "monotone", "color": "#ffffff", "strokeWidth": 0.7, "clip": true}, "encoding": {"y": {"field": "y", "type": "quantitative", "scale": {"domain": [0, 1210], "nice": false}}, "detail": {"field": "k"}}},
    {"transform": [{"filter": "datum.k === 'tri'"}], "mark": {"type": "point", "shape": "triangle-up", "filled": true, "color": "#000000", "opacity": 1, "size": 26, "yOffset": 4}, "encoding": {"y": {"field": "y", "type": "quantitative", "scale": {"domain": [0, 1210], "nice": false}}}}
   ]},
  {"width": 208.7, "height": 201, "data": {"name": "h3"},
   "encoding": {"x": {"field": "x", "type": "quantitative", "scale": {"domain": [0, 91.4], "nice": false, "zero": false}, "axis": {"title": "Channels (FL2-A)", "tickCount": 45, "format": "d", "labelExpr": "datum.value % 20 === 0 ? datum.label : ''"}}},
   "layer": [
    {"transform": [{"filter": "datum.k === 'gate'"}], "mark": {"type": "rule", "color": "#707070", "strokeWidth": 6.5}},
    {"transform": [{"filter": "datum.k === 'gate'"}], "mark": {"type": "rule", "color": "#ffffff", "strokeWidth": 3.5}},
    {"transform": [{"filter": "datum.k === 'g1' || datum.k === 'g2'"}], "mark": {"type": "area", "interpolate": "monotone", "fill": "#e3202a", "stroke": "#111111", "strokeWidth": 0.8, "clip": true}, "encoding": {"y": {"field": "y", "type": "quantitative", "scale": {"domain": [0, 2400], "nice": false}, "axis": {"title": "Number", "tickCount": 24, "format": "d", "labelExpr": "datum.value % 500 === 0 ? datum.label : ''"}}, "detail": {"field": "k"}}},
    {"transform": [{"filter": "datum.k === 's'"}], "mark": {"type": "area", "interpolate": "monotone", "fill": "#c3c5ee", "blend": "multiply", "stroke": "#111111", "strokeWidth": 0.8, "clip": true}, "encoding": {"y": {"field": "y", "type": "quantitative", "scale": {"domain": [0, 2400], "nice": false}}}},
    {"transform": [{"filter": "datum.k === 'r1' || datum.k === 'r2'"}], "mark": {"type": "line", "interpolate": "monotone", "color": "#2a2a2a", "strokeWidth": 2, "clip": true}, "encoding": {"y": {"field": "y", "type": "quantitative", "scale": {"domain": [0, 2400], "nice": false}}, "detail": {"field": "k"}}},
    {"transform": [{"filter": "datum.k === 'r1' || datum.k === 'r2'"}], "mark": {"type": "line", "interpolate": "monotone", "color": "#ffffff", "strokeWidth": 0.7, "clip": true}, "encoding": {"y": {"field": "y", "type": "quantitative", "scale": {"domain": [0, 2400], "nice": false}}, "detail": {"field": "k"}}},
    {"transform": [{"filter": "datum.k === 'gr'"}], "mark": {"type": "line", "color": "#3f9b3f", "strokeWidth": 1.5, "clip": true}, "encoding": {"y": {"field": "y", "type": "quantitative", "scale": {"domain": [0, 2400], "nice": false}}}}
   ]},
  {"width": 223.3, "height": 197, "data": {"name": "h4"},
   "encoding": {"x": {"field": "x", "type": "quantitative", "scale": {"domain": [0, 100], "nice": false, "zero": false}, "axis": {"title": "Channels (FL2-A)", "tickCount": 50, "format": "d", "labelExpr": "datum.value % 20 === 0 ? datum.label : ''"}}},
   "layer": [
    {"transform": [{"filter": "datum.k === 'g1' || datum.k === 'g2'"}], "mark": {"type": "area", "interpolate": "monotone", "fill": "#e3202a", "stroke": "#111111", "strokeWidth": 0.8, "clip": true}, "encoding": {"y": {"field": "y", "type": "quantitative", "scale": {"domain": [0, 6000], "nice": false}, "axis": {"title": "Number", "tickCount": 30, "format": "d", "labelExpr": "datum.value % 1000 === 0 ? datum.label : ''"}}, "detail": {"field": "k"}}},
    {"transform": [{"filter": "datum.k === 's'"}], "mark": {"type": "area", "interpolate": "monotone", "fill": "#c3c5ee", "blend": "multiply", "stroke": "#111111", "strokeWidth": 0.8, "clip": true}, "encoding": {"y": {"field": "y", "type": "quantitative", "scale": {"domain": [0, 6000], "nice": false}}}},
    {"transform": [{"filter": "datum.k === 'r1' || datum.k === 'r2'"}], "mark": {"type": "line", "interpolate": "monotone", "color": "#2a2a2a", "strokeWidth": 2, "clip": true}, "encoding": {"y": {"field": "y", "type": "quantitative", "scale": {"domain": [0, 6000], "nice": false}}, "detail": {"field": "k"}}},
    {"transform": [{"filter": "datum.k === 'r1' || datum.k === 'r2'"}], "mark": {"type": "line", "interpolate": "monotone", "color": "#ffffff", "strokeWidth": 0.7, "clip": true}, "encoding": {"y": {"field": "y", "type": "quantitative", "scale": {"domain": [0, 6000], "nice": false}}, "detail": {"field": "k"}}}
   ]}
 ]},
 {"width": 1152, "height": 158, "data": {"name": "t1"}, "view": {"stroke": "#000000", "strokeWidth": 5},
  "encoding": {
   "x": {"field": "c", "type": "nominal", "scale": {"domain": [" ", "S91EGIN, +MMC", "S91EGIN, -MMC", "NoVirus, +MMC", "NoVirus, -MMC"], "paddingInner": 0, "paddingOuter": 0}, "axis": null},
   "y": {"field": "r", "type": "nominal", "scale": {"domain": [" ", "G1/0-Phase", "S-Phase", "G2/M-Phase"], "paddingInner": 0, "paddingOuter": 0}, "axis": null}},
  "layer": [
   {"mark": {"type": "rect", "fill": "#ffffff", "stroke": "#000000", "strokeWidth": 1.4}},
   {"transform": [{"filter": "datum.k === 'head'"}], "mark": {"type": "text", "fontSize": 17, "fontWeight": "bold", "color": "#111111"}, "encoding": {"text": {"field": "t"}}},
   {"transform": [{"filter": "datum.k === 'body'"}], "mark": {"type": "text", "fontSize": 17, "color": "#111111"}, "encoding": {"text": {"field": "t"}}}
  ]},
 {"width": 1, "height": 41.5, "data": {"values": [{}]}, "mark": {"type": "text", "text": ""}},
 {"spacing": 26, "bounds": "flush", "hconcat": [
  {"width": 191, "height": 200, "data": {"values": [{}]}, "mark": {"type": "text", "text": ""}},
  {"width": 213.3, "height": 200, "data": {"name": "h5"},
   "encoding": {"x": {"field": "x", "type": "quantitative", "scale": {"domain": [0, 64], "nice": false, "zero": false}, "axis": {"title": "Channels (FL2-A)", "tickCount": 32, "format": "d", "labelExpr": "datum.value % 10 === 0 ? datum.label : ''"}}},
   "layer": [
    {"transform": [{"filter": "datum.k === 'gate'"}], "mark": {"type": "rule", "color": "#707070", "strokeWidth": 4}},
    {"transform": [{"filter": "datum.k === 'gate'"}], "mark": {"type": "rule", "color": "#ffffff", "strokeWidth": 1.6}},
    {"transform": [{"filter": "datum.k === 'g1' || datum.k === 'g2'"}], "mark": {"type": "area", "interpolate": "monotone", "fill": "#e3202a", "stroke": "#111111", "strokeWidth": 0.8, "clip": true}, "encoding": {"y": {"field": "y", "type": "quantitative", "scale": {"domain": [0, 1760], "nice": false}, "axis": {"title": "Number", "tickCount": 35, "format": "d", "labelExpr": "datum.value % 400 === 0 ? datum.label : ''"}}, "detail": {"field": "k"}}},
    {"transform": [{"filter": "datum.k === 's'"}], "mark": {"type": "area", "interpolate": "monotone", "fill": "#c3c5ee", "blend": "multiply", "stroke": "#111111", "strokeWidth": 0.8, "clip": true}, "encoding": {"y": {"field": "y", "type": "quantitative", "scale": {"domain": [0, 1760], "nice": false}}}},
    {"transform": [{"filter": "datum.k === 'r1' || datum.k === 'r2'"}], "mark": {"type": "line", "interpolate": "monotone", "color": "#2a2a2a", "strokeWidth": 2, "clip": true}, "encoding": {"y": {"field": "y", "type": "quantitative", "scale": {"domain": [0, 1760], "nice": false}}, "detail": {"field": "k"}}},
    {"transform": [{"filter": "datum.k === 'r1' || datum.k === 'r2'"}], "mark": {"type": "line", "interpolate": "monotone", "color": "#ffffff", "strokeWidth": 0.7, "clip": true}, "encoding": {"y": {"field": "y", "type": "quantitative", "scale": {"domain": [0, 1760], "nice": false}}, "detail": {"field": "k"}}},
    {"transform": [{"filter": "datum.k === 'tri'"}], "mark": {"type": "point", "shape": "triangle-up", "filled": true, "color": "#000000", "opacity": 1, "size": 26, "yOffset": 4}, "encoding": {"y": {"field": "y", "type": "quantitative", "scale": {"domain": [0, 1760], "nice": false}}}}
   ]},
  {"width": 211.4, "height": 200, "data": {"name": "h6"},
   "encoding": {"x": {"field": "x", "type": "quantitative", "scale": {"domain": [0, 73.5], "nice": false, "zero": false}, "axis": {"title": "Channels (FL2-A)", "tickCount": 36, "format": "d", "labelExpr": "datum.value % 20 === 0 ? datum.label : ''"}}},
   "layer": [
    {"transform": [{"filter": "datum.k === 'gate'"}], "mark": {"type": "rule", "color": "#707070", "strokeWidth": 4}},
    {"transform": [{"filter": "datum.k === 'gate'"}], "mark": {"type": "rule", "color": "#ffffff", "strokeWidth": 1.6}},
    {"transform": [{"filter": "datum.k === 'g1' || datum.k === 'g2'"}], "mark": {"type": "area", "interpolate": "monotone", "fill": "#e3202a", "stroke": "#111111", "strokeWidth": 0.8, "clip": true}, "encoding": {"y": {"field": "y", "type": "quantitative", "scale": {"domain": [0, 3500], "nice": false}, "axis": {"title": "Number", "tickCount": 35, "format": "d", "labelExpr": "datum.value % 700 === 0 ? datum.label : ''"}}, "detail": {"field": "k"}}},
    {"transform": [{"filter": "datum.k === 's'"}], "mark": {"type": "area", "interpolate": "monotone", "fill": "#c3c5ee", "blend": "multiply", "stroke": "#111111", "strokeWidth": 0.8, "clip": true}, "encoding": {"y": {"field": "y", "type": "quantitative", "scale": {"domain": [0, 3500], "nice": false}}}},
    {"transform": [{"filter": "datum.k === 'r1' || datum.k === 'r2'"}], "mark": {"type": "line", "interpolate": "monotone", "color": "#2a2a2a", "strokeWidth": 2, "clip": true}, "encoding": {"y": {"field": "y", "type": "quantitative", "scale": {"domain": [0, 3500], "nice": false}}, "detail": {"field": "k"}}},
    {"transform": [{"filter": "datum.k === 'r1' || datum.k === 'r2'"}], "mark": {"type": "line", "interpolate": "monotone", "color": "#ffffff", "strokeWidth": 0.7, "clip": true}, "encoding": {"y": {"field": "y", "type": "quantitative", "scale": {"domain": [0, 3500], "nice": false}}, "detail": {"field": "k"}}},
    {"transform": [{"filter": "datum.k === 'gr'"}], "mark": {"type": "line", "color": "#3f9b3f", "strokeWidth": 1.5, "clip": true}, "encoding": {"y": {"field": "y", "type": "quantitative", "scale": {"domain": [0, 3500], "nice": false}}}},
    {"transform": [{"filter": "datum.k === 'tri'"}], "mark": {"type": "point", "shape": "triangle-up", "filled": true, "color": "#000000", "opacity": 1, "size": 26, "yOffset": 4}, "encoding": {"y": {"field": "y", "type": "quantitative", "scale": {"domain": [0, 3500], "nice": false}}}}
   ]},
  {"width": 213, "height": 198, "data": {"name": "h7"},
   "encoding": {"x": {"field": "x", "type": "quantitative", "scale": {"domain": [0, 93], "nice": false, "zero": false}, "axis": {"title": "Channels (FL2-A)", "tickCount": 46, "format": "d", "labelExpr": "datum.value % 20 === 0 ? datum.label : ''"}}},
   "layer": [
    {"transform": [{"filter": "datum.k === 'gate'"}], "mark": {"type": "rule", "color": "#707070", "strokeWidth": 4}},
    {"transform": [{"filter": "datum.k === 'gate'"}], "mark": {"type": "rule", "color": "#ffffff", "strokeWidth": 1.6}},
    {"transform": [{"filter": "datum.k === 'g1' || datum.k === 'g2'"}], "mark": {"type": "area", "interpolate": "monotone", "fill": "#e3202a", "stroke": "#111111", "strokeWidth": 0.8, "clip": true}, "encoding": {"y": {"field": "y", "type": "quantitative", "scale": {"domain": [0, 2400], "nice": false}, "axis": {"title": "Number", "tickCount": 24, "format": "d", "labelExpr": "datum.value % 500 === 0 ? datum.label : ''"}}, "detail": {"field": "k"}}},
    {"transform": [{"filter": "datum.k === 's'"}], "mark": {"type": "area", "interpolate": "monotone", "fill": "#c3c5ee", "blend": "multiply", "stroke": "#111111", "strokeWidth": 0.8, "clip": true}, "encoding": {"y": {"field": "y", "type": "quantitative", "scale": {"domain": [0, 2400], "nice": false}}}},
    {"transform": [{"filter": "datum.k === 'r1' || datum.k === 'r2'"}], "mark": {"type": "line", "interpolate": "monotone", "color": "#2a2a2a", "strokeWidth": 2, "clip": true}, "encoding": {"y": {"field": "y", "type": "quantitative", "scale": {"domain": [0, 2400], "nice": false}}, "detail": {"field": "k"}}},
    {"transform": [{"filter": "datum.k === 'r1' || datum.k === 'r2'"}], "mark": {"type": "line", "interpolate": "monotone", "color": "#ffffff", "strokeWidth": 0.7, "clip": true}, "encoding": {"y": {"field": "y", "type": "quantitative", "scale": {"domain": [0, 2400], "nice": false}}, "detail": {"field": "k"}}},
    {"transform": [{"filter": "datum.k === 'tri'"}], "mark": {"type": "point", "shape": "triangle-up", "filled": true, "color": "#000000", "opacity": 1, "size": 26, "yOffset": 4}, "encoding": {"y": {"field": "y", "type": "quantitative", "scale": {"domain": [0, 2400], "nice": false}}}}
   ]},
  {"width": 232.6, "height": 199, "data": {"name": "h8"},
   "encoding": {"x": {"field": "x", "type": "quantitative", "scale": {"domain": [0, 69.8], "nice": false, "zero": false}, "axis": {"title": "Channels (FL2-A)", "tickCount": 35, "format": "d", "labelExpr": "datum.value % 10 === 0 ? datum.label : ''"}}},
   "layer": [
    {"transform": [{"filter": "datum.k === 'g1' || datum.k === 'g2'"}], "mark": {"type": "area", "interpolate": "monotone", "fill": "#e3202a", "stroke": "#111111", "strokeWidth": 0.8, "clip": true}, "encoding": {"y": {"field": "y", "type": "quantitative", "scale": {"domain": [0, 3000], "nice": false}, "axis": {"title": "Number", "tickCount": 30, "format": "d", "labelExpr": "datum.value % 600 === 0 ? datum.label : ''"}}, "detail": {"field": "k"}}},
    {"transform": [{"filter": "datum.k === 's'"}], "mark": {"type": "area", "interpolate": "monotone", "fill": "#c3c5ee", "blend": "multiply", "stroke": "#111111", "strokeWidth": 0.8, "clip": true}, "encoding": {"y": {"field": "y", "type": "quantitative", "scale": {"domain": [0, 3000], "nice": false}}}},
    {"transform": [{"filter": "datum.k === 'r1' || datum.k === 'r2'"}], "mark": {"type": "line", "interpolate": "monotone", "color": "#2a2a2a", "strokeWidth": 2, "clip": true}, "encoding": {"y": {"field": "y", "type": "quantitative", "scale": {"domain": [0, 3000], "nice": false}}, "detail": {"field": "k"}}},
    {"transform": [{"filter": "datum.k === 'r1' || datum.k === 'r2'"}], "mark": {"type": "line", "interpolate": "monotone", "color": "#ffffff", "strokeWidth": 0.7, "clip": true}, "encoding": {"y": {"field": "y", "type": "quantitative", "scale": {"domain": [0, 3000], "nice": false}}, "detail": {"field": "k"}}},
    {"transform": [{"filter": "datum.k === 'tri'"}], "mark": {"type": "point", "shape": "triangle-up", "filled": true, "color": "#000000", "opacity": 1, "size": 26, "yOffset": 4}, "encoding": {"y": {"field": "y", "type": "quantitative", "scale": {"domain": [0, 3000], "nice": false}}}}
   ]}
 ]},
 {"width": 1152, "height": 188, "data": {"name": "t2"}, "view": {"stroke": "#000000", "strokeWidth": 5},
  "encoding": {
   "x": {"field": "c", "type": "nominal", "scale": {"domain": [" ", "S91FAAP24IN, +MMC", "S91FAAP100IN, +MMC", "S91MERIT40IN, +MMC", "S91MUS81IN, +MMC"], "paddingInner": 0, "paddingOuter": 0}, "axis": null},
   "y": {"field": "r", "type": "nominal", "scale": {"domain": [" ", "G1/0-Phase", "S-Phase", "G2/M-Phase", "Differenz zur Kontrolle"], "paddingInner": 0, "paddingOuter": 0}, "axis": null}},
  "layer": [
   {"mark": {"type": "rect", "fill": "#ffffff", "stroke": "#000000", "strokeWidth": 1.4}},
   {"transform": [{"filter": "datum.k === 'head'"}], "mark": {"type": "text", "fontSize": 17, "fontWeight": "bold", "color": "#111111"}, "encoding": {"text": {"field": "t"}}},
   {"transform": [{"filter": "datum.k === 'body'"}], "mark": {"type": "text", "fontSize": 17, "color": "#111111"}, "encoding": {"text": {"field": "t"}}},
   {"transform": [{"filter": "datum.k === 'diff'"}], "mark": {"type": "text", "fontSize": 17, "fontStyle": "italic", "color": "#111111"}, "encoding": {"text": {"field": "t"}}}
  ]},
 {"width": 1, "height": 32.5, "data": {"values": [{}]}, "mark": {"type": "text", "text": ""}},
 {"spacing": 26, "bounds": "flush", "hconcat": [
  {"width": 205.3, "height": 198, "data": {"values": [{}]}, "mark": {"type": "text", "text": ""}},
  {"width": 224, "height": 198, "data": {"name": "h9"},
   "encoding": {"x": {"field": "x", "type": "quantitative", "scale": {"domain": [0, 100], "nice": false, "zero": false}, "axis": {"title": "Channels (FL2-A)", "tickCount": 50, "format": "d", "labelExpr": "datum.value % 20 === 0 ? datum.label : ''"}}},
   "layer": [
    {"transform": [{"filter": "datum.k === 'g1' || datum.k === 'g2'"}], "mark": {"type": "area", "interpolate": "monotone", "fill": "#e3202a", "stroke": "#111111", "strokeWidth": 0.8, "clip": true}, "encoding": {"y": {"field": "y", "type": "quantitative", "scale": {"domain": [0, 4200], "nice": false}, "axis": {"title": "Number", "tickCount": 21, "format": "d", "labelExpr": "datum.value % 800 === 0 ? datum.label : ''"}}, "detail": {"field": "k"}}},
    {"transform": [{"filter": "datum.k === 's'"}], "mark": {"type": "area", "interpolate": "monotone", "fill": "#c3c5ee", "blend": "multiply", "stroke": "#111111", "strokeWidth": 0.8, "clip": true}, "encoding": {"y": {"field": "y", "type": "quantitative", "scale": {"domain": [0, 4200], "nice": false}}}},
    {"transform": [{"filter": "datum.k === 'r1' || datum.k === 'r2'"}], "mark": {"type": "line", "interpolate": "monotone", "color": "#2a2a2a", "strokeWidth": 2, "clip": true}, "encoding": {"y": {"field": "y", "type": "quantitative", "scale": {"domain": [0, 4200], "nice": false}}, "detail": {"field": "k"}}},
    {"transform": [{"filter": "datum.k === 'r1' || datum.k === 'r2'"}], "mark": {"type": "line", "interpolate": "monotone", "color": "#ffffff", "strokeWidth": 0.7, "clip": true}, "encoding": {"y": {"field": "y", "type": "quantitative", "scale": {"domain": [0, 4200], "nice": false}}, "detail": {"field": "k"}}},
    {"transform": [{"filter": "datum.k === 'tri'"}], "mark": {"type": "point", "shape": "triangle-up", "filled": true, "color": "#000000", "opacity": 1, "size": 26, "yOffset": 4}, "encoding": {"y": {"field": "y", "type": "quantitative", "scale": {"domain": [0, 4200], "nice": false}}}}
   ]}
 ]},
 {"width": 456, "height": 185, "data": {"name": "t3"}, "view": {"stroke": "#000000", "strokeWidth": 5},
  "encoding": {
   "x": {"field": "c", "type": "nominal", "scale": {"domain": [" ", "S91UBE2TIN, +MMC"], "paddingInner": 0, "paddingOuter": 0}, "axis": null},
   "y": {"field": "r", "type": "nominal", "scale": {"domain": [" ", "G1/0-Phase", "S-Phase", "G2/M-Phase", "Differenz zur Kontrolle"], "paddingInner": 0, "paddingOuter": 0}, "axis": null}},
  "layer": [
   {"mark": {"type": "rect", "fill": "#ffffff", "stroke": "#000000", "strokeWidth": 1.4}},
   {"transform": [{"filter": "datum.k === 'head'"}], "mark": {"type": "text", "fontSize": 17, "fontWeight": "bold", "color": "#111111"}, "encoding": {"text": {"field": "t"}}},
   {"transform": [{"filter": "datum.k === 'body'"}], "mark": {"type": "text", "fontSize": 17, "color": "#111111"}, "encoding": {"text": {"field": "t"}}},
   {"transform": [{"filter": "datum.k === 'diff'"}], "mark": {"type": "text", "fontSize": 17, "fontStyle": "italic", "color": "#111111"}, "encoding": {"text": {"field": "t"}}}
  ]}
]
}
